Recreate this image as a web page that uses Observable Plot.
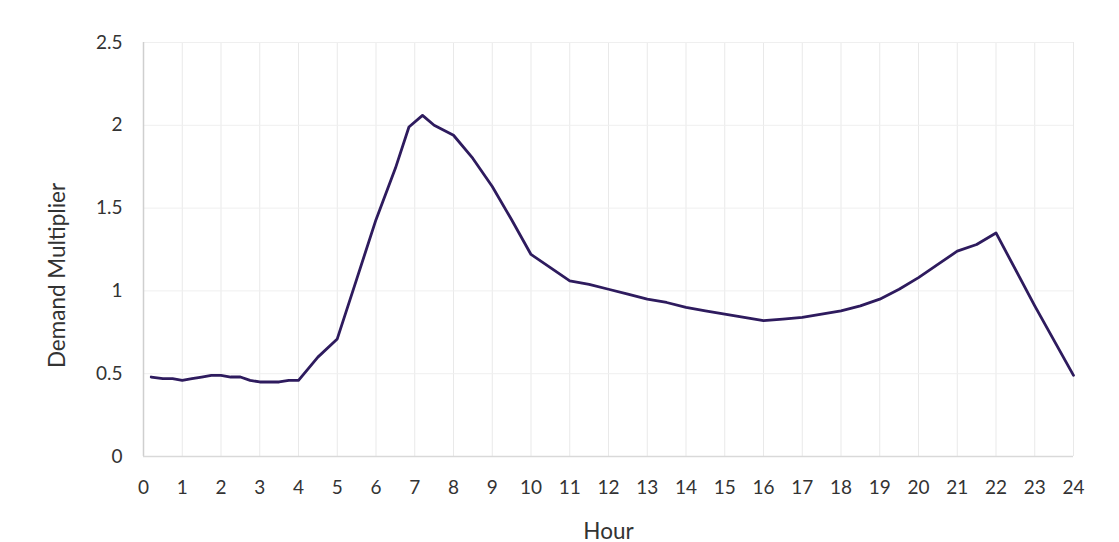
<!DOCTYPE html>
<html>
<head>
<meta charset="utf-8">
<script src="https://cdn.jsdelivr.net/npm/d3@7"></script>
<script src="https://cdn.jsdelivr.net/npm/@observablehq/plot@0.6"></script>
<style>
  html, body { margin: 0; padding: 0; background: #fff; }
  #chart { width: 1119px; height: 542px; }
  svg { font-family: Lato, "Open Sans", sans-serif; }
</style>
</head>
<body>
<div id="chart"></div>
<script>
const hours = [0.2,0.5,0.75,1,1.25,1.5,1.75,2,2.25,2.5,2.75,3,3.25,3.5,3.75,4,4.5,5,5.5,6,6.5,6.85,7.2,7.5,8,8.5,9,9.5,10,10.5,11,11.5,12,12.5,13,13.5,14,14.5,15,15.5,16,16.5,17,17.5,18,18.5,19,19.5,20,20.5,21,21.5,22,23,24];
const demand = [0.48,0.47,0.47,0.46,0.47,0.48,0.49,0.49,0.48,0.48,0.46,0.45,0.45,0.45,0.46,0.46,0.60,0.71,1.07,1.43,1.74,1.99,2.06,2.00,1.94,1.80,1.63,1.43,1.22,1.14,1.06,1.04,1.01,0.98,0.95,0.93,0.90,0.88,0.86,0.84,0.82,0.83,0.84,0.86,0.88,0.91,0.95,1.01,1.08,1.16,1.24,1.28,1.35,0.91,0.49];
const xTicks = d3.range(0, 25, 1);
const yTicks = [0, 0.5, 1, 1.5, 2, 2.5];

const data = hours.map((h, i) => ({hour: h, value: demand[i]}));

const chart = Plot.plot({
  width: 1119,
  height: 542,
  marginLeft: 143,
  marginRight: 46,
  marginTop: 42,
  marginBottom: 86,
  style: {fontSize: "19px", color: "#333", background: "#fff"},
  x: {domain: [0, 24], ticks: xTicks, label: null},
  y: {domain: [0, 2.5], ticks: yTicks, label: null},
  marks: [
    Plot.gridX(xTicks, {stroke: "#e9e9e9", strokeOpacity: 1}),
    Plot.gridY(yTicks, {stroke: "#efefef", strokeOpacity: 1}),
    Plot.ruleX([0], {stroke: "#cfcfcf", strokeWidth: 1.5}),
    Plot.ruleY([0], {stroke: "#d9d9d9", strokeWidth: 1.5}),
    Plot.axisX({ticks: xTicks, tickSize: 0, tickPadding: 24, label: null, fill: "#333"}),
    Plot.axisY({ticks: yTicks, tickSize: 0, tickPadding: 21, label: null, fill: "#333",
      tickFormat: d => String(d)}),
    Plot.line(data, {x: "hour", y: "value", stroke: "#2e1b5e", strokeWidth: 2.8}),
    Plot.text(["Hour"], {frameAnchor: "bottom", dy: 82, fontSize: 22.5, fill: "#333"}),
    Plot.text(["Demand Multiplier"], {frameAnchor: "left", textAnchor: "middle", dx: -86, dy: 26, rotate: -90, fontSize: 22.5, fill: "#333"})
  ]
});
document.getElementById("chart").appendChild(chart);
</script>
</body>
</html>
